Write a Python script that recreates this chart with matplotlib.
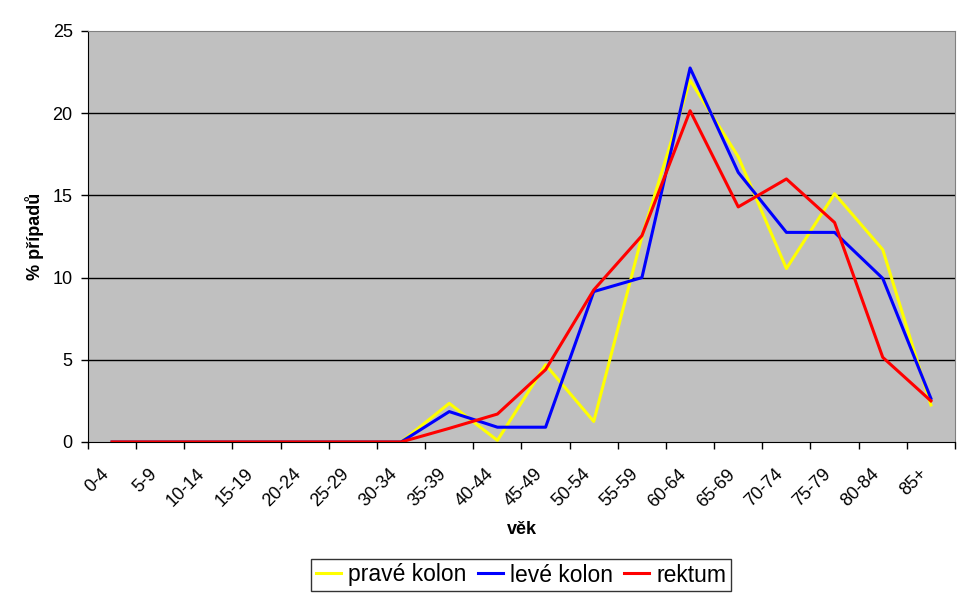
import matplotlib.pyplot as plt
import matplotlib.transforms as mtransforms
import numpy as np

plt.rcParams['font.family'] = ['Liberation Sans', 'DejaVu Sans']

# věkové skupiny
vek = ["0-4", "5-9", "10-14", "15-19", "20-24", "25-29", "30-34", "35-39", "40-44",
       "45-49", "50-54", "55-59", "60-64", "65-69", "70-74", "75-79", "80-84", "85+"]

# % případů
prave_kolon = [0, 0, 0, 0, 0, 0, 0, 2.35, 0.1, 4.7, 1.25, 12.5, 22.0, 17.35, 10.55, 15.1, 11.7, 2.25]
leve_kolon = [0, 0, 0, 0, 0, 0, 0, 1.85, 0.9, 0.9, 9.15, 10.0, 22.75, 16.4, 12.75, 12.75, 9.95, 2.65]
rektum = [0, 0, 0, 0, 0, 0, 0, 0.83, 1.7, 4.4, 9.25, 12.55, 20.15, 14.3, 16.0, 13.35, 5.15, 2.5]

fig = plt.figure(figsize=(9.7, 6.04), dpi=100)
ax = fig.add_axes([88 / 970, 1 - 442 / 604, (955 - 88) / 970, (442 - 31) / 604])
ax.set_facecolor("#c0c0c0")

x = np.arange(len(vek))
ax.plot(x, prave_kolon, color="#ffff00", lw=2.2, label="pravé kolon")
ax.plot(x, leve_kolon, color="#0000ff", lw=2.2, label="levé kolon")
ax.plot(x, rektum, color="#ff0000", lw=2.2, label="rektum")

ax.set_xlim(-0.5, len(vek) - 0.5)
ax.set_ylim(0, 25)
ax.set_yticks([0, 5, 10, 15, 20, 25])
ax.set_yticklabels(["0", "5", "10", "15", "20", "25"], fontsize=13)
for yv in [5, 10, 15, 20]:
    ax.axhline(yv, color="black", lw=1, zorder=0.5)

# ticks on category boundaries, labels at centers
ax.set_xticks(np.arange(len(vek) + 1) - 0.5)
ax.set_xticklabels([])
ax.set_xticks(x, minor=True)
ax.set_xticklabels(vek, minor=True, rotation=45, ha="right", rotation_mode="anchor", fontsize=13)
ax.tick_params(axis="x", which="minor", length=0, pad=17)
ax.tick_params(axis="x", which="major", length=5, width=1, direction="out")
ax.tick_params(axis="y", length=5, width=1, direction="out", pad=6)

shift = mtransforms.ScaledTranslation(-12 / 100, 0, fig.dpi_scale_trans)
for lab in ax.get_xticklabels(minor=True):
    lab.set_transform(lab.get_transform() + shift)

for s in ["top", "right"]:
    ax.spines[s].set_color("#808080")
for s in ["left", "bottom"]:
    ax.spines[s].set_color("black")

ax.set_xlabel("věk", fontsize=13, fontweight="bold", labelpad=8)
ax.set_ylabel("% případů", fontsize=13, fontweight="bold", labelpad=6)

leg = fig.legend(loc="center", bbox_to_anchor=(521 / 970, 1 - 575 / 604), ncol=3,
                 fontsize=16.5, frameon=True, fancybox=False, edgecolor="black",
                 handlelength=1.1, handletextpad=0.3, columnspacing=0.5, borderpad=0.2)
leg.get_frame().set_linewidth(1)

fig.savefig("out.png", dpi=100)
